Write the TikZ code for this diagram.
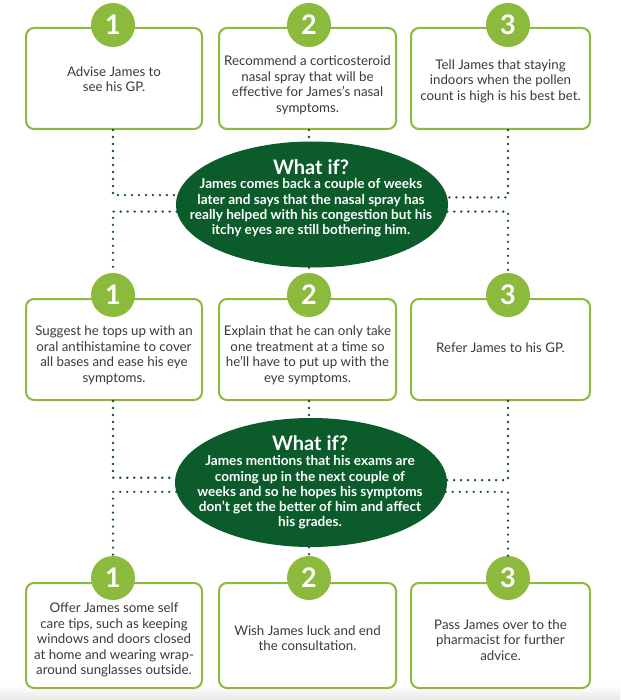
\documentclass[tikz,border=0pt]{standalone}
\usepackage{fontspec}
\setmainfont{Lato}
\usetikzlibrary{shapes.geometric,calc}
\definecolor{lgreen}{HTML}{8CBA3C}
\definecolor{dgreen}{HTML}{0B5B2B}
\definecolor{dotgreen}{HTML}{14522E}
\definecolor{txtgray}{HTML}{3A3A3A}
\begin{document}
\begin{tikzpicture}[x=1pt,y=-1pt,
  box/.style={draw=lgreen, line width=2pt, rounded corners=8pt, fill=white, inner sep=0pt},
  txt/.style={align=center, text=txtgray, font=\fontsize{13.3}{15.5}\selectfont, inner sep=0pt},
  num/.style={circle, fill=lgreen, minimum size=44pt, inner sep=0pt, text=white, font=\fontsize{27}{27}\selectfont\bfseries},
  whatif/.style={ellipse, fill=dgreen, minimum width=272pt, minimum height=126pt, inner sep=0pt},
  wtitle/.style={text=white, font=\fontsize{20}{22}\selectfont\bfseries, inner sep=0pt},
  wtxt/.style={align=center, text=white, font=\fontsize{13.6}{15.3}\selectfont\bfseries, inner sep=0pt},
  dots/.style={draw=dotgreen, line width=2.6pt, line cap=round, dash pattern=on 0pt off 7pt}]
\useasboundingbox (0,0) rectangle (620,700);
\shade[top color=white, bottom color=black!9] (0,685) rectangle (620,700);

% boxes
\node[box, minimum width=176pt, minimum height=101pt] (b11) at (114,78.5) {};
\node[box, minimum width=177pt, minimum height=101pt] (b12) at (307.5,78.5) {};
\node[box, minimum width=179pt, minimum height=101pt] (b13) at (500.5,78.5) {};
\node[box, minimum width=176pt, minimum height=101pt] (b21) at (114,349.5) {};
\node[box, minimum width=177pt, minimum height=101pt] (b22) at (307.5,349.5) {};
\node[box, minimum width=179pt, minimum height=101pt] (b23) at (500.5,349.5) {};
\node[box, minimum width=176pt, minimum height=105pt] (b31) at (114,635.5) {};
\node[box, minimum width=177pt, minimum height=105pt] (b32) at (307.5,635.5) {};
\node[box, minimum width=179pt, minimum height=105pt] (b33) at (500.5,635.5) {};

% circles
\node[num] (c11) at (113,25) {1};
\node[num] (c12) at (309,25) {2};
\node[num] (c13) at (508,25) {3};
\node[num] (c21) at (113,295) {1};
\node[num] (c22) at (309,295) {2};
\node[num] (c23) at (508,295) {3};
\node[num] (c31) at (113,578) {1};
\node[num] (c32) at (309,578) {2};
\node[num] (c33) at (508,578) {3};

% ellipses
\node[whatif] (e1) at (312,204.5) {};
\node[whatif, minimum height=129pt] (e2) at (311,482.5) {};

% box texts
\node[txt] (t11) at (114,79) {Advise James to\\see his GP.};
\node[txt] (t12) at (307.5,85) {Recommend a corticosteroid\\nasal spray that will be\\effective for James’s nasal\\symptoms.};
\node[txt] (t13) at (500.5,81) {Tell James that staying\\indoors when the pollen\\count is high is his best bet.};
\node[txt] (t21) at (114,355) {Suggest he tops up with an\\oral antihistamine to cover\\all bases and ease his eye\\symptoms.};
\node[txt] (t22) at (307.5,355) {Explain that he can only take\\one treatment at a time so\\he’ll have to put up with the\\eye symptoms.};
\node[txt] (t23) at (500.5,348) {Refer James to his GP.};
\node[txt] (t31) at (114,640) {Offer James some self\\care tips, such as keeping\\windows and doors closed\\at home and wearing wrap-\\around sunglasses outside.};
\node[txt] (t32) at (307.5,638) {Wish James luck and end\\the consultation.};
\node[txt] (t33) at (500.5,640) {Pass James over to the\\pharmacist for further\\advice.};

% ellipse texts
\node[wtitle] (w1) at (311,167) {What if?};
\node[wtxt] (x1) at (311,208) {James comes back a couple of weeks\\later and says that the nasal spray has\\really helped with his congestion but his\\itchy eyes are still bothering him.};
\node[wtitle] (w2) at (310,443) {What if?};
\node[wtxt] (x2) at (310,492.5) {James mentions that his exams are\\coming up in the next couple of\\weeks and so he hopes his symptoms\\don’t get the better of him and affect\\his grades.};

% connectors stage 1
\draw[dots] (c11 |- b11.south) |- (e1.176.7);
\draw[dots] (e1.183.3) -| (c21.north);
\draw[dots] (c13 |- b13.south) |- (e1.3.3);
\draw[dots] (e1.-3.3) -| (c23.north);
\draw[dots] (c12 |- b12.south) -- (c12 |- e1.north);
\draw[dots] (c12 |- e1.south) -- (c22.north);

% connectors stage 2
\draw[dots] (c21 |- b21.south) |- (e2.178.1);
\draw[dots] (e2.184.5) -| (c31.north);
\draw[dots] (c23 |- b23.south) |- (e2.1.9);
\draw[dots] (e2.-4.5) -| (c33.north);
\draw[dots] (c22 |- b22.south) -- (c22 |- e2.north);
\draw[dots] (c22 |- e2.south) -- (c32.north);
\end{tikzpicture}
\end{document}
